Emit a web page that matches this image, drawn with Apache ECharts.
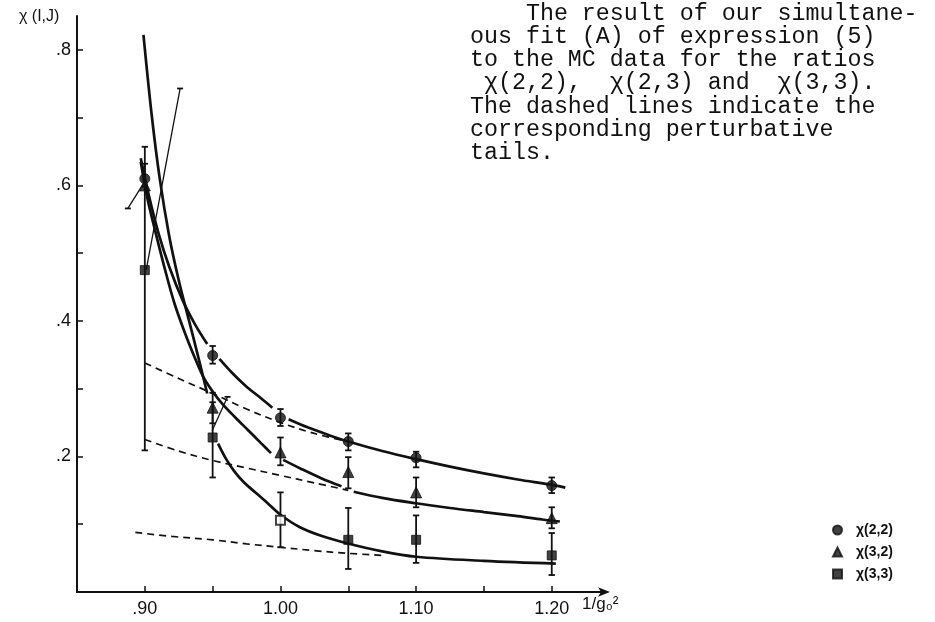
<!DOCTYPE html>
<html>
<head>
<meta charset="utf-8">
<script src="https://cdn.jsdelivr.net/npm/echarts@6/dist/echarts.min.js"></script>
<style>html,body{margin:0;padding:0;background:#fff}#c{width:935px;height:622px}</style>
</head>
<body>
<div id="c"></div>
<script>
// ---- data ----
const xTicks = [0.90, 0.95, 1.00, 1.05, 1.10, 1.15, 1.20];
const xLabelValues = [0.90, 1.00, 1.10, 1.20];
const xLabelText = ['.90', '1.00', '1.10', '1.20'];
const yTicks = [0.1, 0.2, 0.3, 0.4, 0.5, 0.6, 0.7, 0.8];
const yLabelValues = [0.2, 0.4, 0.6, 0.8];
const yLabelText = ['.2', '.4', '.6', '.8'];

const seriesNames = ['χ(2,2)', 'χ(3,2)', 'χ(3,3)'];

// MC data points: [x, value]
const chi22 = [[0.90,0.610],[0.95,0.349],[1.00,0.257],[1.05,0.222],[1.10,0.198],[1.20,0.157]];
const chi32 = [[0.90,0.600],[0.95,0.272],[1.00,0.206],[1.05,0.177],[1.10,0.147],[1.20,0.109]];
const chi33 = [[0.90,0.475],[0.95,0.228],[1.00,0.106],[1.05,0.077],[1.10,0.077],[1.20,0.054]];

// error bars: [x, low, high]
const err22 = [[0.90,0.598,0.632],[0.95,0.337,0.363],[1.00,0.245,0.270],[1.05,0.209,0.234],[1.10,0.184,0.207],[1.20,0.146,0.169]];
const err32 = [[0.95,0.249,0.294],[1.00,0.187,0.228],[1.05,0.153,0.199],[1.10,0.125,0.169],[1.20,0.094,0.125]];
const err33 = [[0.90,0.209,0.657],[0.95,0.169,0.280],[1.00,0.066,0.147],[1.05,0.034,0.124],[1.10,0.043,0.113],[1.20,0.025,0.087]];

// solid fit curves (pieces, broken at the markers)
const fit22a = [[0.897,0.640],[0.903,0.585],[0.910,0.530],[0.918,0.480],[0.928,0.430],[0.937,0.395],[0.946,0.366]];
const fit22b = [[0.955,0.344],[0.965,0.322],[0.975,0.303],[0.985,0.287],[0.994,0.272]];
const fit22c = [[1.006,0.255],[1.020,0.243],[1.035,0.232],[1.050,0.222],[1.075,0.208],[1.100,0.196],[1.125,0.185],[1.150,0.175],[1.175,0.166],[1.200,0.158],[1.210,0.154]];

const fit32a = [[0.897,0.635],[0.902,0.580],[0.908,0.530],[0.915,0.475],[0.922,0.425],[0.930,0.380],[0.937,0.345],[0.943,0.318],[0.950,0.296],[0.957,0.278],[0.966,0.259],[0.976,0.239],[0.986,0.219],[0.993,0.205]];
const fit32b = [[1.002,0.195],[1.015,0.182],[1.030,0.168],[1.045,0.156]];
const fit32c = [[1.054,0.148],[1.075,0.139],[1.100,0.131],[1.125,0.124],[1.150,0.118],[1.175,0.112],[1.193,0.107],[1.206,0.104]];

const fit33a = [[0.899,0.822],[0.905,0.705],[0.911,0.610],[0.918,0.525],[0.925,0.460],[0.932,0.405],[0.939,0.350],[0.946,0.293]];
const fit33b = [[0.954,0.219],[0.960,0.196],[0.966,0.178],[0.973,0.162],[0.982,0.146],[0.990,0.132],[1.000,0.114],[1.014,0.096],[1.030,0.083],[1.049,0.072],[1.075,0.060],[1.100,0.052],[1.150,0.046],[1.203,0.042]];

// dashed perturbative tails
const tail22 = [[0.900,0.338],[0.925,0.315],[0.950,0.293],[0.975,0.270],[1.000,0.250],[1.025,0.234],[1.050,0.222]];
const tail32 = [[0.900,0.225],[0.925,0.208],[0.950,0.194],[0.975,0.183],[1.000,0.172],[1.025,0.161],[1.050,0.150]];
const tail33 = [[0.893,0.088],[0.920,0.082],[0.950,0.077],[0.975,0.071],[1.000,0.066],[1.025,0.061],[1.050,0.057],[1.075,0.054]];

// thin slanted strokes drawn on the original: [x1, y1, x2, y2] (cap at second end)
const strokes = [[0.900,0.606,0.8875,0.566],[0.901,0.475,0.926,0.743],[0.9496,0.238,0.961,0.288]];

const captionLines = [
  '    The result of our simultane-',
  'ous fit (A) of expression (5)',
  'to the MC data for the ratios',
  ' χ(2,2),  χ(2,3) and  χ(3,3).',
  'The dashed lines indicate the',
  'corresponding perturbative',
  'tails.'
];

// ---- chart ----
const chart = echarts.init(document.getElementById('c'));
const BLACK = '#111';

function curve(data, dashed) {
  return {
    type: 'line', data: data, showSymbol: false, smooth: 0.35, silent: true,
    lineStyle: dashed ? {color: BLACK, width: 1.7, type: [7, 5]} : {color: BLACK, width: 2.7},
    z: 2, animation: false
  };
}
function errSeries(data) {
  return {
    type: 'custom', data: data, encode: {x: 0, y: [1, 2]}, z: 3, animation: false, silent: true,
    renderItem: function (params, api) {
      const x = api.value(0);
      const p1 = api.coord([x, api.value(1)]);
      const p2 = api.coord([x, api.value(2)]);
      const w = 3.2, st = {stroke: BLACK, lineWidth: 1.8};
      return {type: 'group', children: [
        {type: 'line', shape: {x1: p1[0], y1: p1[1], x2: p2[0], y2: p2[1]}, style: st},
        {type: 'line', shape: {x1: p1[0]-w, y1: p1[1], x2: p1[0]+w, y2: p1[1]}, style: st},
        {type: 'line', shape: {x1: p2[0]-w, y1: p2[1], x2: p2[0]+w, y2: p2[1]}, style: st}
      ]};
    }
  };
}
function pointSeries(name, data, symbol, size) {
  return {
    name: name, type: 'scatter', data: data, symbol: symbol, symbolSize: size, z: 5,
    itemStyle: {color: BLACK, borderColor: BLACK, borderWidth: 1}, animation: false,
    emphasis: {disabled: true}
  };
}

const sq = pointSeries(seriesNames[2], chi33.map(function (d) {
  if (Math.abs(d[0] - 1.00) < 1e-6) return {value: d, itemStyle: {color: '#fff', borderColor: BLACK, borderWidth: 2}};
  return d;
}), 'rect', 9);

const option = {
  animation: false,
  backgroundColor: '#fff',
  grid: {left: 77, right: 329, top: 16, bottom: 30, containLabel: false},
  xAxis: {
    type: 'value', min: 0.85, max: 1.24,
    axisLine: {show: true, symbol: ['none', 'arrow'], symbolSize: [7, 12], symbolOffset: [0, 4], lineStyle: {color: BLACK, width: 2}},
    axisTick: {show: true, inside: true, length: 6, customValues: xTicks, lineStyle: {color: BLACK, width: 1.5}},
    axisLabel: {show: true, customValues: xLabelValues, margin: 8, color: BLACK, fontSize: 18, fontFamily: 'Liberation Sans',
      formatter: function (v) { const i = xLabelValues.findIndex(function (t) { return Math.abs(t - v) < 1e-6; }); return i >= 0 ? xLabelText[i] : ''; }},
    splitLine: {show: false}
  },
  yAxis: {
    type: 'value', min: 0, max: 0.85,
    axisLine: {show: true, lineStyle: {color: BLACK, width: 2}},
    axisTick: {show: true, inside: true, length: 6, customValues: yTicks, lineStyle: {color: BLACK, width: 1.5}},
    axisLabel: {show: true, customValues: yLabelValues, margin: 6, color: BLACK, fontSize: 18, fontFamily: 'Liberation Sans',
      formatter: function (v) { const i = yLabelValues.findIndex(function (t) { return Math.abs(t - v) < 1e-6; }); return i >= 0 ? yLabelText[i] : ''; }},
    splitLine: {show: false}
  },
  legend: {
    orient: 'vertical', left: 827, top: 518, itemWidth: 9, itemHeight: 9, itemGap: 8,
    textStyle: {color: BLACK, fontSize: 14, fontWeight: 'bold', fontFamily: 'Liberation Sans', padding: [0, 0, 0, 9]},
    selectedMode: false,
    data: [{name: seriesNames[0], icon: 'circle'}, {name: seriesNames[1], icon: 'triangle'}, {name: seriesNames[2], icon: 'rect'}]
  },
  graphic: [
    {type: 'text', left: 19, top: 9, style: {text: 'χ (I,J)', fontSize: 16, fontFamily: 'Liberation Sans', fill: BLACK}},
    {type: 'text', left: 582, top: 596, style: {text: '1/g₀²', fontSize: 17, fontFamily: 'Liberation Sans', fill: BLACK}},
    {type: 'text', left: 470, top: 2, style: {text: captionLines.join('\n'), fontSize: 23.3, lineHeight: 23.2, fontFamily: 'Liberation Mono', fill: BLACK}}
  ],
  series: [
    curve(fit22a), curve(fit22b), curve(fit22c),
    curve(fit32a), curve(fit32b), curve(fit32c),
    curve(fit33a), curve(fit33b),
    curve(tail22, true), curve(tail32, true), curve(tail33, true),
    {
      type: 'custom', data: strokes, encode: {x: [0, 2], y: [1, 3]}, z: 3, animation: false, silent: true,
      renderItem: function (params, api) {
        const a = api.coord([api.value(0), api.value(1)]);
        const b = api.coord([api.value(2), api.value(3)]);
        const st = {stroke: BLACK, lineWidth: 1.3};
        return {type: 'group', children: [
          {type: 'line', shape: {x1: a[0], y1: a[1], x2: b[0], y2: b[1]}, style: st},
          {type: 'line', shape: {x1: b[0]-3, y1: b[1], x2: b[0]+3, y2: b[1]}, style: {stroke: BLACK, lineWidth: 1.8}}
        ]};
      }
    },
    errSeries(err22), errSeries(err32), errSeries(err33),
    pointSeries(seriesNames[0], chi22, 'circle', 10),
    pointSeries(seriesNames[1], chi32, 'triangle', 11),
    sq
  ]
};
chart.setOption(option);
</script>
</body>
</html>
